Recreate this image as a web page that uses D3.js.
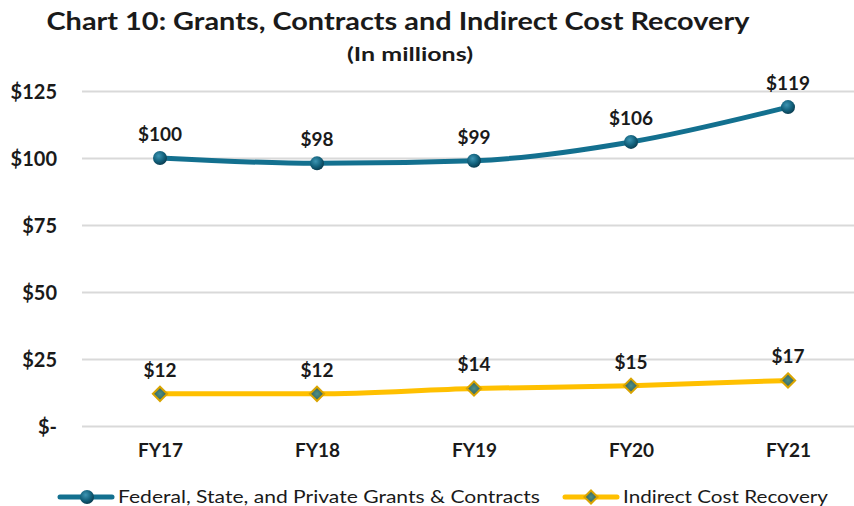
<!DOCTYPE html>
<html lang="en">
<head>
<meta charset="UTF-8">
<title>Chart 10</title>
<script src="https://d3js.org/d3.v7.min.js"></script>
<style>
  body { margin: 0; background: #fff; }
  text { font-family: Lato, "Open Sans", sans-serif; fill: #1a1a1a; }
</style>
</head>
<body>
<svg width="854" height="506"></svg>
<script>
// chart data
const years = ["FY17", "FY18", "FY19", "FY20", "FY21"];
const grants = [100, 98, 99, 106, 119];
const indirect = [12, 12, 14, 15, 17];
const yTicks = [0, 25, 50, 75, 100, 125];
const seriesNames = ["Federal, State, and Private Grants & Contracts", "Indirect Cost Recovery"];

const svg = d3.select("svg");
const blue = "#13708f", gold = "#ffc000";

const x = d3.scalePoint().domain(years).range([160, 788]);
const y = d3.scaleLinear().domain([0, 125]).range([426, 91]);

// gradients for the shiny markers
const defs = svg.append("defs");
const rg = defs.append("radialGradient").attr("id", "ball").attr("cx", "40%").attr("cy", "35%").attr("r", "65%");
rg.append("stop").attr("offset", "0%").attr("stop-color", "#3d95b3");
rg.append("stop").attr("offset", "60%").attr("stop-color", "#13627d");
rg.append("stop").attr("offset", "100%").attr("stop-color", "#0a3e52");
const dg = defs.append("radialGradient").attr("id", "dia").attr("cx", "50%").attr("cy", "50%").attr("r", "50%");
dg.append("stop").attr("offset", "0%").attr("stop-color", "#4f8f86");
dg.append("stop").attr("offset", "100%").attr("stop-color", "#2f5f5a");

// titles
svg.append("text").attr("x", 398).attr("y", 30).attr("text-anchor", "middle")
  .style("font-size", "25px").style("font-weight", "bold")
  .attr("textLength", 703).attr("lengthAdjust", "spacingAndGlyphs")
  .text("Chart 10: Grants, Contracts and Indirect Cost Recovery");
svg.append("text").attr("x", 410).attr("y", 61).attr("text-anchor", "middle")
  .style("font-size", "19px").style("font-weight", "bold")
  .attr("textLength", 126).attr("lengthAdjust", "spacingAndGlyphs")
  .text("(In millions)");

// y axis with gridlines
const yAxis = svg.append("g").attr("transform", "translate(82,0)")
  .call(d3.axisLeft(y).tickValues(yTicks).tickSize(-772)
    .tickFormat(d => d === 0 ? "$-" : "$" + d));
yAxis.select(".domain").remove();
yAxis.selectAll(".tick line").attr("stroke", "#d9d9d9").attr("stroke-width", 2);
yAxis.selectAll(".tick text").attr("x", -25).attr("dy", "0.35em")
  .style("font-size", "20px").style("font-weight", "bold").attr("fill", "#1a1a1a");

// x axis labels
const xAxis = svg.append("g").attr("transform", "translate(0,426)")
  .call(d3.axisBottom(x).tickSize(0).tickPadding(18));
xAxis.select(".domain").remove();
xAxis.selectAll(".tick text").style("font-size", "19px").style("font-weight", "bold").attr("fill", "#1a1a1a");

const line = d3.line().x((d, i) => x(years[i])).y(d => y(d)).curve(d3.curveMonotoneX);

function drawSeries(values, color, marker) {
  svg.append("path").datum(values).attr("d", line)
    .attr("fill", "none").attr("stroke", color).attr("stroke-width", 5)
    .attr("stroke-linecap", "round");
  const g = svg.append("g");
  values.forEach((v, i) => {
    const cx = x(years[i]), cy = y(v);
    if (marker === "circle") {
      g.append("circle").attr("cx", cx).attr("cy", cy).attr("r", 7).attr("fill", "url(#ball)");
    } else {
      g.append("path").attr("d", d3.symbol(d3.symbolDiamond2, 130)())
        .attr("transform", `translate(${cx},${cy})`)
        .attr("fill", "url(#dia)").attr("stroke", "#d9a400").attr("stroke-width", 2);
    }
    g.append("text").attr("x", cx).attr("y", cy - 17).attr("text-anchor", "middle")
      .style("font-size", "19px").style("font-weight", "bold").text("$" + v);
  });
}

drawSeries(grants, blue, "circle");
drawSeries(indirect, gold, "diamond");

// legend
const legend = svg.append("g").attr("transform", "translate(0,497)");
const items = [
  { name: seriesNames[0], color: blue, marker: "circle", x: 60, w: 422 },
  { name: seriesNames[1], color: gold, marker: "diamond", x: 565, w: 205 }
];
items.forEach(it => {
  legend.append("line").attr("x1", it.x).attr("x2", it.x + 52).attr("y1", 0).attr("y2", 0)
    .attr("stroke", it.color).attr("stroke-width", 5).attr("stroke-linecap", "round");
  if (it.marker === "circle") {
    legend.append("circle").attr("cx", it.x + 27).attr("cy", 0).attr("r", 7).attr("fill", "url(#ball)");
  } else {
    legend.append("path").attr("d", d3.symbol(d3.symbolDiamond2, 110)())
      .attr("transform", `translate(${it.x + 26},0)`)
      .attr("fill", "url(#dia)").attr("stroke", "#d9a400").attr("stroke-width", 2);
  }
  legend.append("text").attr("x", it.x + 58).attr("y", 0).attr("dy", "0.35em")
    .style("font-size", "18px")
    .attr("textLength", it.w).attr("lengthAdjust", "spacingAndGlyphs")
    .text(it.name);
});
</script>
</body>
</html>
